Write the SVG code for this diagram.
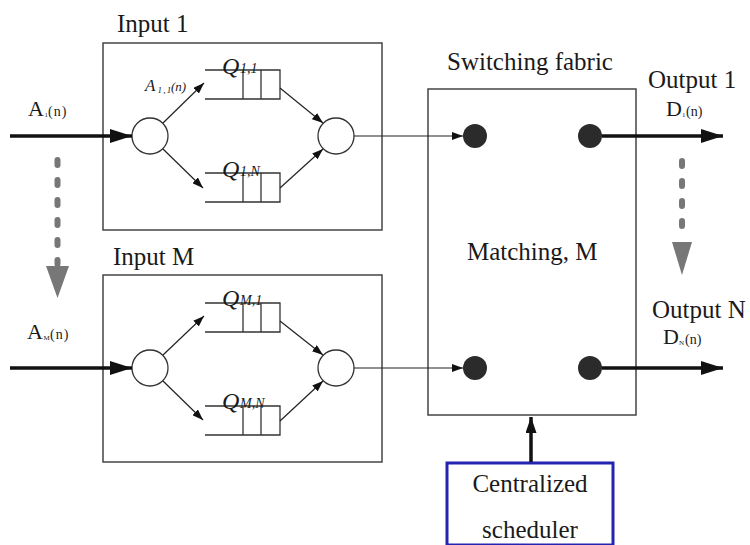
<svg xmlns="http://www.w3.org/2000/svg" width="750" height="545" viewBox="0 0 750 545">
  <defs>
    <style>
      .box { fill: none; stroke: #444; stroke-width: 1.5; }
      .q { fill: none; stroke: #333; stroke-width: 1.3; }
      .node { fill: #fff; stroke: #333; stroke-width: 1.3; }
      .dot { fill: #2b2b2b; }
      .thin { fill: none; stroke: #222; stroke-width: 1.2; marker-end: url(#head-thin); }
      .thick { fill: none; stroke: #111; stroke-width: 3.5; marker-end: url(#head-thick); }
      .dash { fill: none; stroke: #777; stroke-width: 6; stroke-linecap: round; stroke-dasharray: 5 15; }
      .grayhead { fill: #777; }
      .lbl { font-family: "Liberation Serif", "Times New Roman", serif; font-size: 25px; fill: #1a1a1a; }
      .it { font-family: "Liberation Serif", "Times New Roman", serif; font-style: italic; fill: #1a1a1a; }
      .rm { font-family: "Liberation Serif", "Times New Roman", serif; fill: #1a1a1a; }
    </style>
    <marker id="head-thin" markerUnits="userSpaceOnUse" markerWidth="11" markerHeight="8" refX="11" refY="4" orient="auto">
      <path d="M0,0 L11,4 L0,8 z" fill="#111"/>
    </marker>
    <marker id="head-thick" markerUnits="userSpaceOnUse" markerWidth="22" markerHeight="14" refX="22" refY="7" orient="auto">
      <path d="M0,0 L22,7 L0,14 z" fill="#111"/>
    </marker>
    <marker id="head-mid" markerUnits="userSpaceOnUse" markerWidth="16" markerHeight="11" refX="16" refY="5.5" orient="auto">
      <path d="M0,0 L16,5.5 L0,11 z" fill="#111"/>
    </marker>
    <!-- one FIFO queue: open left end, two cells at the head -->
    <g id="queue">
      <path class="q" d="M205,0 H280 V29 H205 M243,0 V29 M261,0 V29"/>
    </g>
  </defs>

  <rect width="750" height="545" fill="#fff"/>

  <!-- input port 1 -->
  <g id="input-1">
    <text class="lbl" x="117" y="32">Input 1</text>
    <rect class="box" x="103" y="43" width="279" height="187"/>
    <circle class="node" cx="150" cy="136" r="18"/>
    <circle class="node" cx="336" cy="136" r="18"/>
    <use href="#queue" y="70"/>
    <use href="#queue" y="173"/>
    <text class="it"><tspan x="222" y="74" font-size="24">Q</tspan><tspan x="240" y="73" font-size="14">1,1</tspan></text>
    <text class="it"><tspan x="222" y="177" font-size="24">Q</tspan><tspan x="240" y="176" font-size="14">1,N</tspan></text>
    <text class="it"><tspan x="145" y="91" font-size="17">A</tspan><tspan x="157.5" y="93" font-size="9" letter-spacing="1.2">1,1</tspan><tspan x="171" y="91" font-size="13">(n)</tspan></text>
    <path class="thin" d="M163,123 L204,83"/>
    <path class="thin" d="M163,149 L203,188"/>
    <path class="thin" d="M280,88 L323,123"/>
    <path class="thin" d="M280,188 L323,149"/>
  </g>

  <!-- input port M -->
  <g id="input-m">
    <text class="lbl" x="113" y="265">Input M</text>
    <rect class="box" x="103" y="275" width="279" height="187"/>
    <circle class="node" cx="150" cy="368" r="18"/>
    <circle class="node" cx="336" cy="368" r="18"/>
    <use href="#queue" y="303"/>
    <use href="#queue" y="406"/>
    <text class="it"><tspan x="222" y="306" font-size="24">Q</tspan><tspan x="240" y="305" font-size="14">M,1</tspan></text>
    <text class="it"><tspan x="222" y="409" font-size="24">Q</tspan><tspan x="240" y="408" font-size="14">M,N</tspan></text>
    <path class="thin" d="M163,355 L204,316"/>
    <path class="thin" d="M163,381 L203,420"/>
    <path class="thin" d="M280,321 L323,355"/>
    <path class="thin" d="M280,421 L323,381"/>
  </g>

  <!-- crossbar with its input and output points -->
  <g id="switching-fabric">
    <text class="lbl" x="447" y="70">Switching fabric</text>
    <rect class="box" x="428" y="89" width="208" height="326"/>
    <circle class="dot" cx="475" cy="136" r="12"/>
    <circle class="dot" cx="590" cy="136" r="12"/>
    <circle class="dot" cx="475" cy="368" r="12"/>
    <circle class="dot" cx="590" cy="368" r="12"/>
    <text class="lbl" x="467" y="260">Matching, M</text>
  </g>

  <g id="output-1">
    <text class="lbl" x="648" y="88">Output 1</text>
    <text class="rm"><tspan x="666" y="116" font-size="22">D</tspan><tspan x="682" y="117" font-size="7">1</tspan><tspan x="686" y="116" font-size="14">(n)</tspan></text>
  </g>

  <g id="output-n">
    <text class="lbl" x="652" y="318">Output N</text>
    <text class="rm"><tspan x="663" y="344" font-size="22">D</tspan><tspan x="679" y="345" font-size="7">N</tspan><tspan x="685" y="344" font-size="14">(n)</tspan></text>
  </g>

  <g id="arrival-1">
    <text class="rm"><tspan x="28" y="116" font-size="22">A</tspan><tspan x="44.5" y="117" font-size="7">1</tspan><tspan x="48" y="116" font-size="14" letter-spacing="1">(n)</tspan></text>
  </g>

  <g id="arrival-m">
    <text class="rm"><tspan x="27" y="339" font-size="22">A</tspan><tspan x="43.5" y="340" font-size="7">M</tspan><tspan x="50" y="339" font-size="14" letter-spacing="1">(n)</tspan></text>
  </g>

  <g id="scheduler">
    <rect x="447" y="463" width="166" height="82" fill="none" stroke="#2424b0" stroke-width="3"/>
    <text class="lbl" x="530" y="492" text-anchor="middle">Centralized</text>
    <text class="lbl" x="530" y="538" text-anchor="middle">scheduler</text>
  </g>

  <!-- connectors -->
  <g id="connectors">
    <path class="thick" d="M10,136 L132,136"/>
    <path class="thick" d="M10,368 L132,368"/>
    <path class="thin" d="M354,136 L463,136"/>
    <path class="thin" d="M354,368 L463,368"/>
    <path class="thick" d="M602,136 L723,136"/>
    <path class="thick" d="M602,368 L723,368"/>
    <path d="M531,462 L531,417" fill="none" stroke="#111" stroke-width="3.5" marker-end="url(#head-mid)"/>
    <!-- "more ports" indicators -->
    <path class="dash" d="M57.5,160 V264"/>
    <polygon class="grayhead" points="46,266 69,266 57.5,298"/>
    <path class="dash" d="M682,161 V240"/>
    <polygon class="grayhead" points="672,242 692,242 682,275"/>
  </g>
</svg>
